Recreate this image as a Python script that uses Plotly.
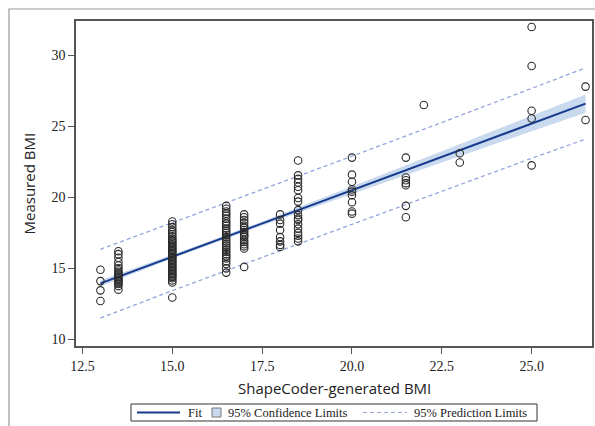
import plotly.graph_objects as go

# ---- Data ----
bmi_13_0 = [14.9, 14.1, 13.45, 12.7]
bmi_13_5 = [16.2, 16.0, 15.75, 15.45, 15.2, 15.0, 14.85, 14.7, 14.6, 14.5, 14.4,
            14.3, 14.2, 14.1, 14.0, 13.9, 13.75, 13.5]
bmi_15_0 = [18.3, 18.1, 17.9, 17.7, 17.55, 17.4, 17.25, 17.1, 17.0, 16.9, 16.8,
            16.7, 16.6, 16.5, 16.4, 16.3, 16.2, 16.1, 16.0, 15.9, 15.8, 15.7,
            15.6, 15.5, 15.4, 15.3, 15.2, 15.1, 15.0, 14.9, 14.8, 14.7, 14.6,
            14.5, 14.4, 14.3, 14.15, 14.0, 12.95]
bmi_16_5 = [19.4, 19.2, 19.0, 18.85, 18.7, 18.5, 18.3, 18.15, 18.0, 17.8, 17.65,
            17.5, 17.35, 17.2, 17.05, 16.9, 16.75, 16.6, 16.45, 16.3, 16.15,
            16.0, 15.85, 15.7, 15.5, 15.3, 15.0, 14.7]
bmi_17_0 = [18.8, 18.6, 18.4, 18.2, 18.0, 17.85, 17.7, 17.55, 17.4, 17.3, 17.2,
            17.0, 16.85, 16.7, 16.55, 16.4, 15.1]
bmi_18_0 = [18.8, 18.4, 18.15, 17.7, 17.2, 16.9, 16.65, 16.5]
bmi_18_5 = [22.6, 21.55, 21.3, 21.05, 20.75, 20.5, 19.95, 19.7, 19.1, 18.75,
            18.5, 18.4, 18.1, 17.8, 17.5, 17.3, 17.1, 16.9]
bmi_20_0 = [22.8, 21.6, 21.1, 20.55, 20.4, 20.15, 19.65, 19.0, 18.85]
bmi_21_5 = [22.8, 21.4, 21.2, 21.0, 20.85, 19.4, 18.6]
bmi_22_0 = [26.5]
bmi_23_0 = [23.1, 22.45]
bmi_25_0 = [32.0, 29.25, 26.1, 25.55, 22.25]
bmi_26_5 = [27.8, 25.45]

shapecoder_levels = [13.0, 13.5, 15.0, 16.5, 17.0, 18.0, 18.5, 20.0, 21.5,
                     22.0, 23.0, 25.0, 26.5]
measured_groups = [bmi_13_0, bmi_13_5, bmi_15_0, bmi_16_5, bmi_17_0, bmi_18_0,
                   bmi_18_5, bmi_20_0, bmi_21_5, bmi_22_0, bmi_23_0, bmi_25_0,
                   bmi_26_5]

# Fit line and limits read at these x positions
band_x = [13.0, 15.0, 17.5, 20.0, 22.5, 25.0, 26.5]
fit_y = [13.94, 15.82, 18.16, 20.51, 22.85, 25.20, 26.60]
cl_lower = [13.72, 15.69, 18.02, 20.26, 22.45, 24.65, 25.95]
cl_upper = [14.16, 15.95, 18.30, 20.76, 23.25, 25.75, 27.25]
pl_lower = [11.50, 13.43, 15.77, 18.11, 20.43, 22.75, 24.10]
pl_upper = [16.34, 18.20, 20.55, 22.90, 25.27, 27.65, 29.12]

x_ticks = [12.5, 15.0, 17.5, 20.0, 22.5, 25.0]
y_ticks = [10, 15, 20, 25, 30]
legend_labels = ["Fit", "95% Confidence Limits", "95% Prediction Limits"]

# ---- Build figure ----
pts_x = []
pts_y = []
for lvl, grp in zip(shapecoder_levels, measured_groups):
    pts_x += [lvl] * len(grp)
    pts_y += grp

BAND = "#c9d9ee"
PRED = "#93a5dc"
FIT = "#163a8c"
DASH = "4px,3px"

fig = go.Figure()

fig.add_trace(go.Scatter(x=band_x, y=cl_lower, mode="lines",
                         line=dict(width=0, color=BAND),
                         showlegend=False, hoverinfo="skip"))
fig.add_trace(go.Scatter(x=band_x, y=cl_upper, mode="lines", fill="tonexty",
                         fillcolor=BAND, line=dict(width=0, color=BAND),
                         name=legend_labels[1], showlegend=False))
fig.add_trace(go.Scatter(x=band_x, y=pl_upper, mode="lines",
                         line=dict(color=PRED, width=1.3, dash=DASH),
                         name=legend_labels[2], showlegend=False))
fig.add_trace(go.Scatter(x=band_x, y=pl_lower, mode="lines",
                         line=dict(color=PRED, width=1.3, dash=DASH),
                         name=legend_labels[2], showlegend=False))
fig.add_trace(go.Scatter(x=band_x, y=fit_y, mode="lines",
                         line=dict(color=FIT, width=2),
                         name=legend_labels[0], showlegend=False))
fig.add_trace(go.Scatter(x=pts_x, y=pts_y, mode="markers",
                         marker=dict(symbol="circle-open", size=7.5,
                                     color="#2a2a2a", line=dict(width=1.1)),
                         showlegend=False))

axis_common = dict(showline=True, linecolor="#555555", linewidth=1.5,
                   mirror=True, ticks="outside", ticklen=6, tickwidth=1,
                   tickcolor="#555555", showgrid=False, zeroline=False,
                   automargin=False,
                   tickfont=dict(family="Liberation Serif", size=14,
                                 color="#222222"))

# ---- layout helpers: pixel -> paper coordinates ----
L, R, T, B, W, H = 76, 3, 21, 80, 595, 426
PW, PH = W - L - R, H - T - B


def px(xp):
    return (xp - L) / PW


def py(yp):
    return (H - B - yp) / PH


legend_font = dict(family="Liberation Serif", size=12.5, color="#222222")
ly = 412.5
shapes = [
    # outer frame
    dict(type="rect", xref="paper", yref="paper",
         x0=px(9), x1=px(640), y0=py(470), y1=py(9),
         line=dict(color="#999999", width=1.2), layer="below"),
    # legend box
    dict(type="rect", xref="paper", yref="paper",
         x0=px(131), x1=px(537), y0=py(421), y1=py(404),
         line=dict(color="#333333", width=1), fillcolor="white"),
    # fit sample
    dict(type="line", xref="paper", yref="paper",
         x0=px(137), x1=px(180), y0=py(ly), y1=py(ly),
         line=dict(color=FIT, width=2)),
    # confidence swatch
    dict(type="rect", xref="paper", yref="paper",
         x0=px(212), x1=px(221), y0=py(ly + 4.5), y1=py(ly - 4.5),
         line=dict(color="#777777", width=1), fillcolor=BAND),
    # prediction sample
    dict(type="line", xref="paper", yref="paper",
         x0=px(363), x1=px(407), y0=py(ly), y1=py(ly),
         line=dict(color=PRED, width=1.2, dash=DASH)),
]

annotations = [
    dict(text="ShapeCoder-generated BMI", xref="paper", yref="paper",
         x=0.5, y=py(388), xanchor="center", yanchor="middle",
         showarrow=False,
         font=dict(family="Open Sans", size=15, color="#222222")),
    dict(text="Measured BMI", xref="paper", yref="paper",
         x=px(28), y=0.5, xanchor="center", yanchor="middle",
         textangle=-90, showarrow=False,
         font=dict(family="Open Sans", size=15, color="#222222")),
]
for lab, xs in zip(legend_labels, [186, 226, 412]):
    annotations.append(dict(text=lab, xref="paper", yref="paper",
                            x=px(xs), y=py(ly), xanchor="left",
                            yanchor="middle", showarrow=False,
                            font=legend_font))

fig.update_layout(
    width=W, height=H,
    margin=dict(l=L, r=R, t=T, b=B, autoexpand=False),
    paper_bgcolor="white", plot_bgcolor="white",
    xaxis=dict(range=[12.32, 26.68], tickvals=x_ticks,
               ticktext=[f"{v:.1f}" for v in x_ticks], **axis_common),
    yaxis=dict(range=[9.53, 32.42], tickvals=y_ticks, **axis_common),
    annotations=annotations,
    shapes=shapes,
    showlegend=False,
)

fig.write_html("out.html", config={"displayModeBar": False},
               post_script="document.body.style.margin='0';"
                           "document.body.style.overflow='hidden';")
